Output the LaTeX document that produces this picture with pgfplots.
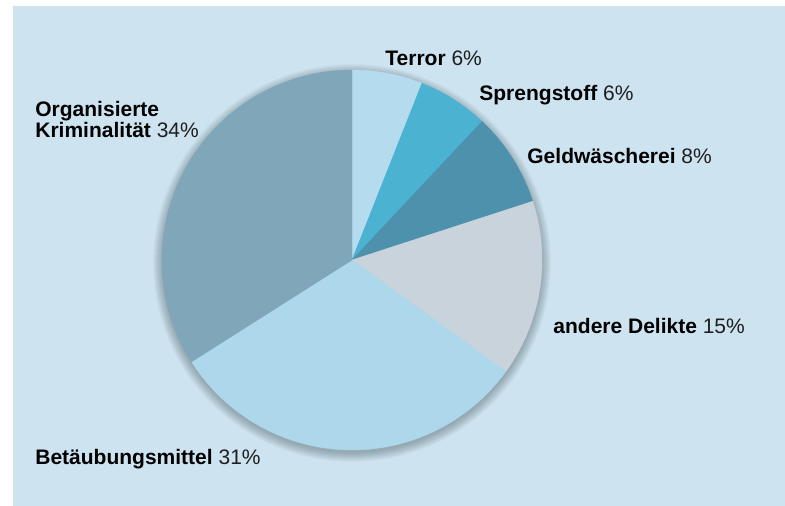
\documentclass[border=0pt]{standalone}
\usepackage{pgfplots}
\pgfplotsset{compat=1.18}
\usepackage{pgfplotstable}
\usepackage{fontspec}
\setmainfont{Liberation Sans}
\definecolor{bg}{RGB}{205,228,240}
\definecolor{cTerror}{RGB}{181,220,238}
\definecolor{cSpreng}{RGB}{76,178,210}
\definecolor{cGeld}{RGB}{78,145,173}
\definecolor{cAndere}{RGB}{201,211,219}
\definecolor{cBtm}{RGB}{173,215,235}
\definecolor{cOrg}{RGB}{127,166,185}
\definecolor{pcttext}{RGB}{30,30,30}
% shares in percent, clockwise from the top
\pgfplotstableread{
name        pct cum
Terror      6   0
Sprengstoff 6   6
Geld        8   12
Andere      15  20
Btm         31  35
Org         34  66
}\piedata
\newcommand{\pieslice}[3]{%
  \addplot[fill=#3, draw=#3, line width=0.2pt, domain={90-3.6*(#1+#2)}:{90-3.6*(#1)}, samples=80, variable=\t]
    ({352+190*cos(\t)},{246+190*sin(\t)}) -- (352,246) -- cycle;
}
\begin{document}
\begin{tikzpicture}
\begin{axis}[width=392.5pt, height=253pt, scale only axis,
  xmin=0, xmax=785, ymin=0, ymax=506, hide axis, clip=false]
% page and panel background
\addplot[fill=white, draw=none] coordinates {(0,0) (785,0) (785,506) (0,506)} -- cycle;
\addplot[fill=bg, draw=none] coordinates {(13,0) (785,0) (785,500) (13,500)} -- cycle;
% soft shadow under the pie
\pgfplotsinvokeforeach{1,2,3,4,5,6,7,8,9,10}{
\addplot[fill=black!70!cOrg, fill opacity=0.035, draw=none, domain=0:360, samples=120, variable=\t]
  ({352+(189+#1)*cos(\t)},{243+(189+#1)*sin(\t)}) -- cycle;
}
\pieslice{0}{6}{cTerror}
\pieslice{6}{6}{cSpreng}
\pieslice{12}{8}{cGeld}
\pieslice{20}{15}{cAndere}
\pieslice{35}{31}{cBtm}
\pieslice{66}{34}{cOrg}
\end{axis}
\begin{axis}[width=392.5pt, height=253pt, scale only axis,
  xmin=0, xmax=785, ymin=0, ymax=506, hide axis, clip=false]
\tikzset{lab/.style={anchor=base west, inner sep=0pt, font=\fontsize{10.5}{12}\selectfont}}
\node[lab] at (385,440) {\textbf{Terror} \textcolor{pcttext}{6\%}};
\node[lab] at (479,405) {\textbf{Sprengstoff} \textcolor{pcttext}{6\%}};
\node[lab] at (527,342) {\textbf{Geldwäscherei} \textcolor{pcttext}{8\%}};
\node[lab] at (553,172) {\textbf{andere Delikte} \textcolor{pcttext}{15\%}};
\node[lab] at (35,41) {\textbf{Betäubungsmittel} \textcolor{pcttext}{31\%}};
\node[lab] at (35,389) {\textbf{Organisierte}};
\node[lab] at (35,368) {\textbf{Kriminalität} \textcolor{pcttext}{34\%}};
\end{axis}
\pgfresetboundingbox
\path (current axis.south west) rectangle (current axis.north east);
\end{tikzpicture}
\end{document}
